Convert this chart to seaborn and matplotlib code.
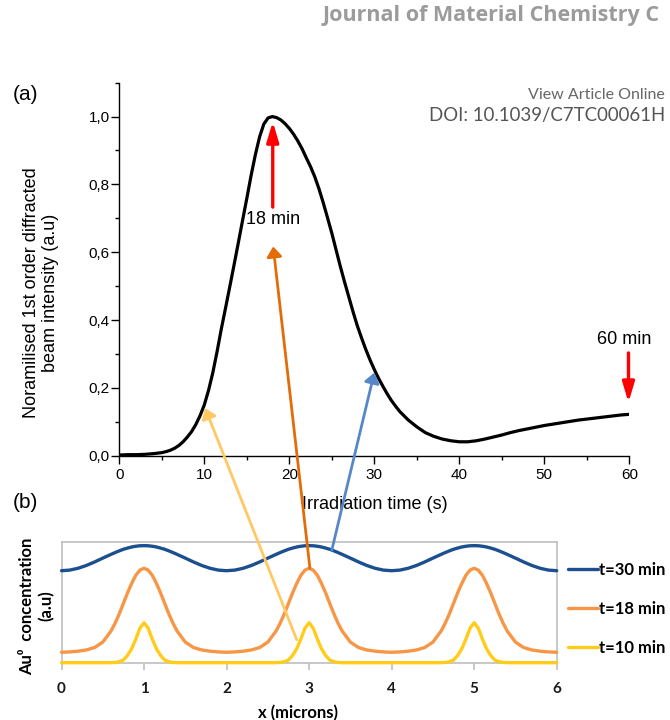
import pandas as pd
import matplotlib
matplotlib.use("Agg")
import matplotlib.pyplot as plt
from matplotlib.ticker import MultipleLocator, AutoMinorLocator, FuncFormatter
from matplotlib.patches import ConnectionPatch
import seaborn as sns

# (a) normalised 1st order diffracted intensity vs irradiation time
time_s = [0, 1, 2, 3, 4, 5, 5.5, 6, 6.5, 7, 7.5, 8, 8.5, 9, 9.5, 10, 10.5, 11, 11.5,
          12, 12.5, 13, 13.5, 14, 14.5, 15, 15.5, 16, 16.5, 17, 17.5, 18, 18.5, 19,
          19.5, 20, 20.5, 21, 21.5, 22, 22.5, 23, 23.5, 24, 24.5, 25, 25.5, 26, 26.5,
          27, 27.5, 28, 28.5, 29, 29.5, 30, 30.5, 31, 31.5, 32, 32.5, 33, 34, 35, 36,
          37, 38, 39, 40, 41, 42, 43, 44, 45, 46, 47, 48, 49, 50, 51, 52, 53, 54, 55,
          56, 57, 58, 59, 60]
intensity = [0.002, 0.003, 0.003, 0.004, 0.006, 0.009, 0.012, 0.016, 0.022, 0.030, 0.041,
             0.055, 0.071, 0.092, 0.118, 0.150, 0.193, 0.245, 0.307, 0.374, 0.436, 0.499,
             0.563, 0.628, 0.694, 0.759, 0.826, 0.887, 0.940, 0.978, 0.996, 1.000, 0.997,
             0.990, 0.979, 0.965, 0.948, 0.928, 0.905, 0.878, 0.852, 0.822, 0.786, 0.745,
             0.701, 0.656, 0.607, 0.558, 0.512, 0.468, 0.424, 0.383, 0.347, 0.313, 0.282,
             0.254, 0.228, 0.205, 0.183, 0.163, 0.146, 0.130, 0.105, 0.085, 0.068, 0.057,
             0.049, 0.044, 0.041, 0.041, 0.044, 0.049, 0.055, 0.061, 0.068, 0.074, 0.079,
             0.084, 0.089, 0.093, 0.097, 0.101, 0.105, 0.108, 0.111, 0.114, 0.117, 0.120,
             0.122]

# (b) Au0 concentration profiles across the grating
x_um = [0.0, 0.1, 0.2, 0.3, 0.4, 0.5, 0.6, 0.65, 0.7, 0.75, 0.8, 0.85, 0.9, 0.95,
        1.0, 1.05, 1.1, 1.15, 1.2, 1.25, 1.3, 1.35, 1.4, 1.5, 1.6, 1.7, 1.8, 1.9,
        2.0, 2.1, 2.2, 2.3, 2.4, 2.5, 2.6, 2.65, 2.7, 2.75, 2.8, 2.85, 2.9, 2.95,
        3.0, 3.05, 3.1, 3.15, 3.2, 3.25, 3.3, 3.35, 3.4, 3.5, 3.6, 3.7, 3.8, 3.9,
        4.0, 4.1, 4.2, 4.3, 4.4, 4.5, 4.6, 4.65, 4.7, 4.75, 4.8, 4.85, 4.9, 4.95,
        5.0, 5.05, 5.1, 5.15, 5.2, 5.25, 5.3, 5.35, 5.4, 5.5, 5.6, 5.7, 5.8, 5.9,
        6.0]
conc_t30 = [0.760, 0.765, 0.780, 0.803, 0.832, 0.864, 0.895, 0.910, 0.924, 0.937, 0.947, 0.956, 0.962, 0.966,
            0.967, 0.966, 0.962, 0.956, 0.947, 0.937, 0.924, 0.910, 0.895, 0.864, 0.832, 0.803, 0.780, 0.765,
            0.760, 0.765, 0.780, 0.803, 0.832, 0.864, 0.895, 0.910, 0.924, 0.937, 0.947, 0.956, 0.962, 0.966,
            0.967, 0.966, 0.962, 0.956, 0.947, 0.937, 0.924, 0.910, 0.895, 0.864, 0.832, 0.803, 0.780, 0.765,
            0.760, 0.765, 0.780, 0.803, 0.832, 0.864, 0.895, 0.910, 0.924, 0.937, 0.947, 0.956, 0.962, 0.966,
            0.967, 0.966, 0.962, 0.956, 0.947, 0.937, 0.924, 0.910, 0.895, 0.864, 0.832, 0.803, 0.780, 0.765,
            0.760]
conc_t18 = [0.086, 0.089, 0.095, 0.105, 0.125, 0.170, 0.262, 0.327, 0.404, 0.490, 0.577, 0.655, 0.722, 0.765,
            0.780, 0.765, 0.722, 0.655, 0.577, 0.490, 0.404, 0.327, 0.262, 0.170, 0.125, 0.105, 0.095, 0.089,
            0.086, 0.089, 0.095, 0.105, 0.125, 0.170, 0.262, 0.327, 0.404, 0.490, 0.577, 0.655, 0.722, 0.765,
            0.780, 0.765, 0.722, 0.655, 0.577, 0.490, 0.404, 0.327, 0.262, 0.170, 0.125, 0.105, 0.095, 0.089,
            0.086, 0.089, 0.095, 0.105, 0.125, 0.170, 0.262, 0.327, 0.404, 0.490, 0.577, 0.655, 0.722, 0.765,
            0.780, 0.765, 0.722, 0.655, 0.577, 0.490, 0.404, 0.327, 0.262, 0.170, 0.125, 0.105, 0.095, 0.089,
            0.086]
conc_t10 = [0.0, 0.0, 0.0, 0.0, 0.0, 0.0, 0.0, 0.002, 0.008, 0.022, 0.060, 0.115, 0.195, 0.285,
            0.330, 0.285, 0.195, 0.115, 0.060, 0.022, 0.008, 0.002, 0.0, 0.0, 0.0, 0.0, 0.0, 0.0,
            0.0, 0.0, 0.0, 0.0, 0.0, 0.0, 0.0, 0.002, 0.008, 0.022, 0.060, 0.115, 0.195, 0.285,
            0.330, 0.285, 0.195, 0.115, 0.060, 0.022, 0.008, 0.002, 0.0, 0.0, 0.0, 0.0, 0.0, 0.0,
            0.0, 0.0, 0.0, 0.0, 0.0, 0.0, 0.0, 0.002, 0.008, 0.022, 0.060, 0.115, 0.195, 0.285,
            0.330, 0.285, 0.195, 0.115, 0.060, 0.022, 0.008, 0.002, 0.0, 0.0, 0.0, 0.0, 0.0, 0.0,
            0.0]
series_labels = ["t=30 min", "t=18 min", "t=10 min"]
series_colors = ["#1B4F8F", "#F79646", "#FFCC1A"]

sns.set_style("ticks")
plt.rcParams["font.family"] = ["Liberation Sans", "DejaVu Sans"]
plt.rcParams["text.color"] = "black"
plt.rcParams["axes.labelcolor"] = "black"
plt.rcParams["xtick.labelcolor"] = "black"
plt.rcParams["ytick.labelcolor"] = "black"

fig = plt.figure(figsize=(6.7, 7.2), dpi=100)
ax_a = fig.add_axes([0.1781, 0.3671, 0.7612, 0.5181])
ax_b = fig.add_axes([0.0918, 0.0796, 0.7391, 0.1681])

# ---- panel (a)
df_a = pd.DataFrame({"t": time_s, "I": intensity})
sns.lineplot(data=df_a, x="t", y="I", ax=ax_a, color="black", lw=2.3)
ax_a.set_xlim(0, 60)
ax_a.set_ylim(0, 1.1)
sns.despine(ax=ax_a)
for s in ["left", "bottom"]:
    ax_a.spines[s].set_linewidth(1.0)
    ax_a.spines[s].set_color("black")
ax_a.xaxis.set_major_locator(MultipleLocator(10))
ax_a.xaxis.set_minor_locator(AutoMinorLocator(2))
ax_a.yaxis.set_major_locator(MultipleLocator(0.2))
ax_a.yaxis.set_minor_locator(AutoMinorLocator(2))
ax_a.yaxis.set_major_formatter(FuncFormatter(lambda v, p: f"{v:.1f}".replace(".", ",")))
ax_a.tick_params(which="major", length=6, width=1.0, labelsize=11, color="black", labelcolor="black")
ax_a.tick_params(which="minor", length=3, width=1.0, color="black")
ax_a.tick_params(axis="y", pad=1)
ax_a.tick_params(axis="x", pad=3)
ax_a.set_xlabel("Irradiation time (s)", fontsize=13, va="center", color="black")
ax_a.xaxis.set_label_coords(0.501, -0.132)
ax_a.set_ylabel("Noramilised 1st order diffracted\nbeam intensity (a.u)", fontsize=13,
                va="center", color="black")
ax_a.yaxis.set_label_coords(-0.1535, 0.436)

red = dict(arrowstyle="-|>,head_length=1.2,head_width=0.36", mutation_scale=10,
           color="#FF0000", lw=2.4, shrinkA=0, shrinkB=0)
ax_a.annotate("", xy=(18.05, 0.985), xytext=(18.05, 0.733), arrowprops=red, annotation_clip=False)
ax_a.text(18.05, 0.695, "18 min", ha="center", va="center", fontsize=13)
ax_a.annotate("", xy=(59.9, 0.157), xytext=(59.9, 0.303), arrowprops=red, annotation_clip=False)
ax_a.text(59.4, 0.343, "60 min", ha="center", va="center", fontsize=13)

# ---- panel (b)
df_b = pd.concat([
    pd.DataFrame({"x": x_um, "c": vals, "series": lab})
    for vals, lab in zip([conc_t30, conc_t18, conc_t10], series_labels)
])
sns.lineplot(data=df_b, x="x", y="c", hue="series", hue_order=series_labels,
             palette=dict(zip(series_labels, series_colors)), lw=2.4,
             estimator=None, ax=ax_b)
for ln in ax_b.lines:
    ln.set_clip_on(False)
    ln.set_zorder(3)
ax_b.set_xlim(0, 6)
ax_b.set_ylim(0, 1)
ax_b.set_yticks([])
ax_b.set_xticks(range(7))
for s in ax_b.spines.values():
    s.set_visible(True)
    s.set_color("#BFBFBF")
    s.set_linewidth(1.2)
ax_b.tick_params(axis="x", length=5, width=1.2, color="#BFBFBF", pad=9,
                 labelsize=11, labelcolor="#1a1a1a")
for lbl in ax_b.get_xticklabels():
    lbl.set_family("Lato")
    lbl.set_fontweight("bold")
ax_b.set_xlabel("x (microns)", fontsize=12, family="Lato", fontweight="bold", va="center")
ax_b.xaxis.set_label_coords(0.478, -0.416)
ax_b.set_ylabel("Au\u2070  concentration\n(a.u)", fontsize=12, family=["Lato", "DejaVu Sans"],
                fontweight="bold", va="center", multialignment="center")
ax_b.yaxis.set_label_coords(-0.0495, 0.469)

handles, labels = ax_b.get_legend_handles_labels()
ax_b.legend(handles, labels, loc="center left", bbox_to_anchor=(0.8478, 0.1542),
            bbox_transform=fig.transFigure, frameon=False, borderpad=0, borderaxespad=0,
            handlelength=1.8, handletextpad=0.05, labelspacing=1.38,
            prop={"family": "Lato", "weight": "bold", "size": 12})

# ---- arrows linking the profiles to the diffraction curve
arrow_kw = dict(arrowstyle="-|>,head_length=0.6,head_width=0.45", mutation_scale=10,
                lw=2.0, shrinkA=0, shrinkB=0, zorder=10)
fig.add_artist(ConnectionPatch(xyA=(2.85, 0.19), coordsA=ax_b.transData,
                               xyB=(10.1, 0.14), coordsB=ax_a.transData,
                               color="#FFC862", **arrow_kw))
fig.add_artist(ConnectionPatch(xyA=(3.01, 0.78), coordsA=ax_b.transData,
                               xyB=(18.1, 0.617), coordsB=ax_a.transData,
                               color="#E36C09", **arrow_kw))
fig.add_artist(ConnectionPatch(xyA=(3.275, 0.93), coordsA=ax_b.transData,
                               xyB=(30.0, 0.245), coordsB=ax_a.transData,
                               color="#5687C8", **arrow_kw))

# ---- page furniture
fig.text(26 / 670, 1 - 95 / 720, "(a)", fontsize=15, ha="center", va="center")
fig.text(25 / 670, 1 - 503 / 720, "(b)", fontsize=15, ha="center", va="center")
fig.text(660 / 670, 1 - 16 / 720, "Journal of Material Chemistry C", ha="right", va="center",
         fontsize=15.5, fontweight="bold", color="#9B9B9B", family="Open Sans")
fig.text(665 / 670, 1 - 95 / 720, "View Article Online", ha="right", va="center",
         fontsize=11.5, color="#666666", family="Lato")
fig.text(665 / 670, 1 - 115.5 / 720, "DOI: 10.1039/C7TC00061H", ha="right", va="center",
         fontsize=13.4, color="#555555", family="Lato")

fig.savefig("out.png", dpi=100)
